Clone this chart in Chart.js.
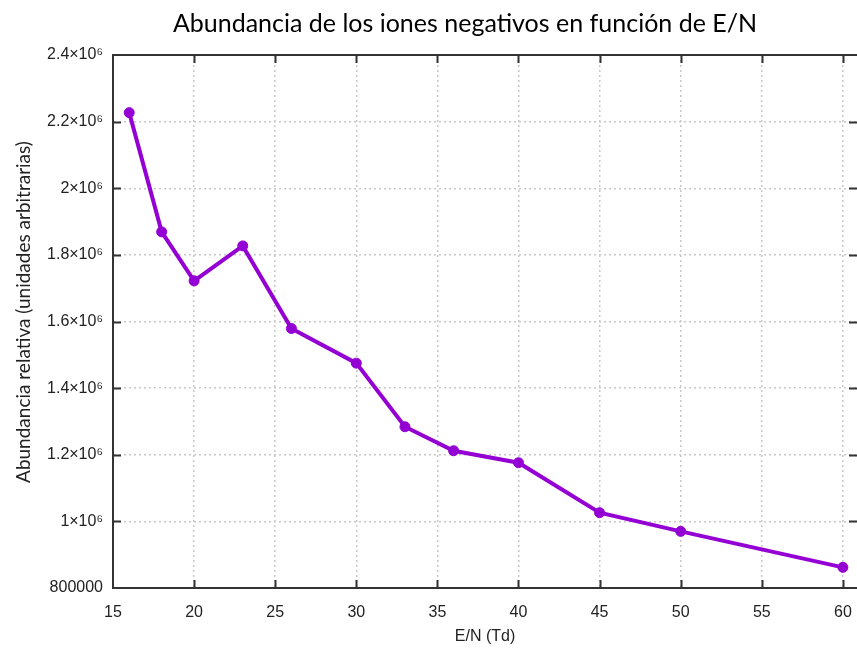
<!DOCTYPE html>
<html lang="es">
<head>
<meta charset="UTF-8">
<title>Abundancia de los iones negativos</title>
<script src="https://cdn.jsdelivr.net/npm/chart.js@4"></script>
<style>
    body {
        margin: 0;
        padding: 0;
        background: #fff;
    }
</style>
</head>
<body>
<canvas id="ionChart" width="857" height="650"></canvas>

<script>
    // E/N values (Td) and measured relative abundance of negative ions
    const campoReducido = [16, 18, 20, 23, 26, 30, 33, 36, 40, 45, 50, 60];
    const abundancia = [2227000, 1869000, 1722000, 1827000, 1579000, 1475000,
                        1284000, 1212000, 1176000, 1026000, 970000, 862000];

    const xTicks = [15, 20, 25, 30, 35, 40, 45, 50, 55, 60];
    const yTicks = [800000, 1000000, 1200000, 1400000, 1600000, 1800000, 2000000, 2200000, 2400000];

    const titulo = 'Abundancia de los iones negativos en función de E/N';
    const tituloY = 'Abundancia relativa (unidades arbitrarias)';
    const tituloX = 'E/N (Td)';

    const purple = '#9400d3';

    // 2200000 -> "2.2×10⁶", values under a million stay plain
    function formatY(v) {
        if (v < 1000000) return String(v);
        const m = Math.round(v / 100000) / 10;
        return m + '×10⁶';
    }

    // gnuplot-like frame: inward tick marks, top border, titles
    const frame = {
        id: 'frame',
        afterDraw(chart) {
            const ctx = chart.ctx;
            const a = chart.chartArea;
            const xs = chart.scales.x;
            const ys = chart.scales.y;
            ctx.save();
            ctx.strokeStyle = '#333';
            ctx.lineWidth = 2;
            ctx.beginPath();
            ctx.moveTo(a.left - 1, a.top);
            ctx.lineTo(a.right, a.top);
            xTicks.forEach(t => {
                const px = Math.round(xs.getPixelForValue(t)) + 0.5;
                if (t === xTicks[0]) return;
                ctx.moveTo(px, a.bottom);
                ctx.lineTo(px, a.bottom - 8);
                ctx.moveTo(px, a.top);
                ctx.lineTo(px, a.top + 8);
            });
            yTicks.forEach(t => {
                const py = Math.round(ys.getPixelForValue(t)) + 0.5;
                if (t === yTicks[0] || t === yTicks[yTicks.length - 1]) return;
                ctx.moveTo(a.left, py);
                ctx.lineTo(a.left + 8, py);
                ctx.moveTo(a.right, py);
                ctx.lineTo(a.right - 8, py);
            });
            ctx.stroke();

            ctx.fillStyle = '#000';
            ctx.textAlign = 'center';
            ctx.textBaseline = 'middle';
            ctx.font = '25px Lato, "Open Sans", sans-serif';
            ctx.fillText(titulo, 465, 24);

            ctx.fillStyle = '#222';
            ctx.font = '19px Lato, "Open Sans", sans-serif';
            ctx.translate(24, 312);
            ctx.rotate(-Math.PI / 2);
            ctx.fillText(tituloY, 0, 0);
            ctx.restore();
        }
    };

    const ctx = document.getElementById('ionChart').getContext('2d');
    new Chart(ctx, {
        type: 'line',
        data: {
            datasets: [{
                data: campoReducido.map((x, i) => ({ x: x, y: abundancia[i] })),
                borderColor: purple,
                backgroundColor: purple,
                borderWidth: 4,
                pointRadius: 5,
                pointBorderWidth: 1,
                tension: 0
            }]
        },
        options: {
            responsive: false,
            animation: false,
            layout: {
                autoPadding: false,
                padding: { top: 55, right: 0, left: 0, bottom: 0 }
            },
            plugins: {
                legend: { display: false },
                tooltip: { enabled: false }
            },
            scales: {
                x: {
                    type: 'linear',
                    min: 15,
                    max: 60.87,
                    afterFit: s => {
                        s.height = 62;
                        s.paddingLeft = 0;
                        s.paddingRight = 0;
                    },
                    afterBuildTicks: s => { s.ticks = xTicks.map(v => ({ value: v })); },
                    ticks: {
                        padding: 0,
                        color: '#222',
                        font: { family: '"Liberation Sans", Arial, sans-serif', size: 16 },
                        maxRotation: 0,
                        autoSkip: false
                    },
                    // transparent tick marks only push the labels down
                    grid: {
                        color: '#c8c8c8',
                        lineWidth: 1.5,
                        drawTicks: true,
                        tickLength: 15,
                        tickColor: 'rgba(0,0,0,0)'
                    },
                    border: { color: '#333', width: 2, dash: [2, 3] },
                    title: {
                        display: true,
                        text: tituloX,
                        color: '#222',
                        font: { family: '"Liberation Sans", Arial, sans-serif', size: 16 },
                        padding: { top: 0, bottom: 4 }
                    }
                },
                y: {
                    min: 800000,
                    max: 2400000,
                    afterFit: s => { s.width = 113; },
                    afterBuildTicks: s => { s.ticks = yTicks.map(v => ({ value: v })); },
                    ticks: {
                        padding: 10,
                        color: '#222',
                        font: { family: '"Liberation Sans", Arial, sans-serif', size: 16 },
                        callback: v => formatY(v)
                    },
                    grid: { color: '#c8c8c8', lineWidth: 1.5, drawTicks: false },
                    border: { color: '#333', width: 2, dash: [2, 3] }
                }
            }
        },
        plugins: [frame]
    });
</script>
</body>
</html>
